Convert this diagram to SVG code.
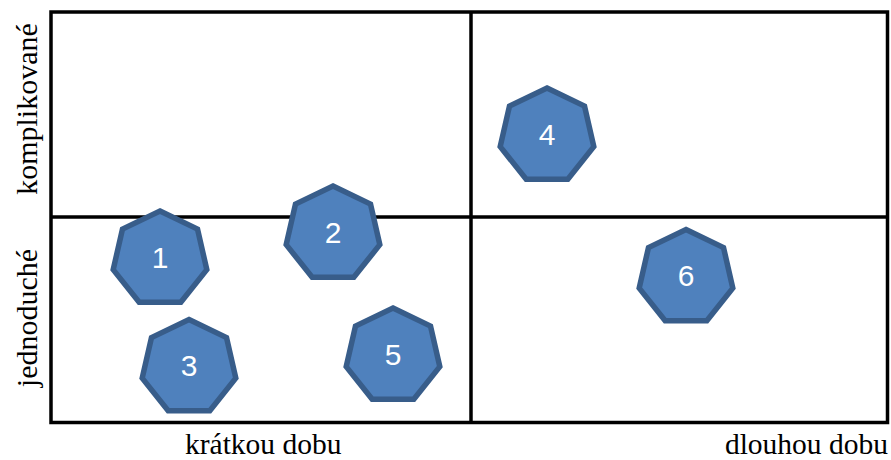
<svg xmlns="http://www.w3.org/2000/svg" xmlns:xlink="http://www.w3.org/1999/xlink" width="891" height="460" viewBox="0 0 891 460">
  <style>
    .grid { fill: none; stroke: #000; stroke-width: 3.5; }
    .shape { fill: #4F81BD; stroke: #385D8A; stroke-width: 5.5; stroke-linejoin: miter; }
    .num { font-family: "Liberation Sans", Arial, sans-serif; font-size: 30px; fill: #fff; text-anchor: middle; }
    .axis { font-family: "Liberation Serif", "Times New Roman", serif; font-size: 30px; fill: #000; }
    .axis-x { font-size: 29.5px; }
  </style>
  <defs>
    <!-- regular heptagon, circumradius 48, point up -->
    <polygon id="hept" points="0,-48 37.53,-29.93 46.8,10.68 20.83,43.25 -20.83,43.25 -46.8,10.68 -37.53,-29.93"/>
  </defs>
  <rect width="891" height="460" fill="#fff"/>

  <!-- quadrant grid -->
  <g id="grid">
    <rect class="grid" x="51" y="12" width="836.5" height="410.5"/>
    <line class="grid" x1="51" y1="217" x2="887.5" y2="217"/>
    <line class="grid" x1="471" y1="12" x2="471" y2="422.5"/>
  </g>

  <!-- axis labels -->
  <g id="labels">
    <text class="axis axis-x" x="185" y="453.5">krátkou dobu</text>
    <text class="axis axis-x" x="888" y="453.5" text-anchor="end">dlouhou dobu</text>
    <text class="axis" text-anchor="middle" transform="translate(37,109) rotate(-90)">komplikované</text>
    <text class="axis" text-anchor="middle" transform="translate(37,318) rotate(-90)">jednoduché</text>
  </g>

  <g id="connectors"/>

  <g id="node1">
    <use xlink:href="#hept" class="shape" transform="translate(160,259)"/>
    <text class="num" x="160" y="267.7">1</text>
  </g>
  <g id="node2">
    <use xlink:href="#hept" class="shape" transform="translate(333,234)"/>
    <text class="num" x="333" y="242.7">2</text>
  </g>
  <g id="node3">
    <use xlink:href="#hept" class="shape" transform="translate(189,367.5)"/>
    <text class="num" x="189" y="376.2">3</text>
  </g>
  <g id="node4">
    <use xlink:href="#hept" class="shape" transform="translate(547,136)"/>
    <text class="num" x="547" y="144.7">4</text>
  </g>
  <g id="node5">
    <use xlink:href="#hept" class="shape" transform="translate(393,356)"/>
    <text class="num" x="393" y="364.7">5</text>
  </g>
  <g id="node6">
    <use xlink:href="#hept" class="shape" transform="translate(686,277.5)"/>
    <text class="num" x="686" y="286.2">6</text>
  </g>
</svg>
